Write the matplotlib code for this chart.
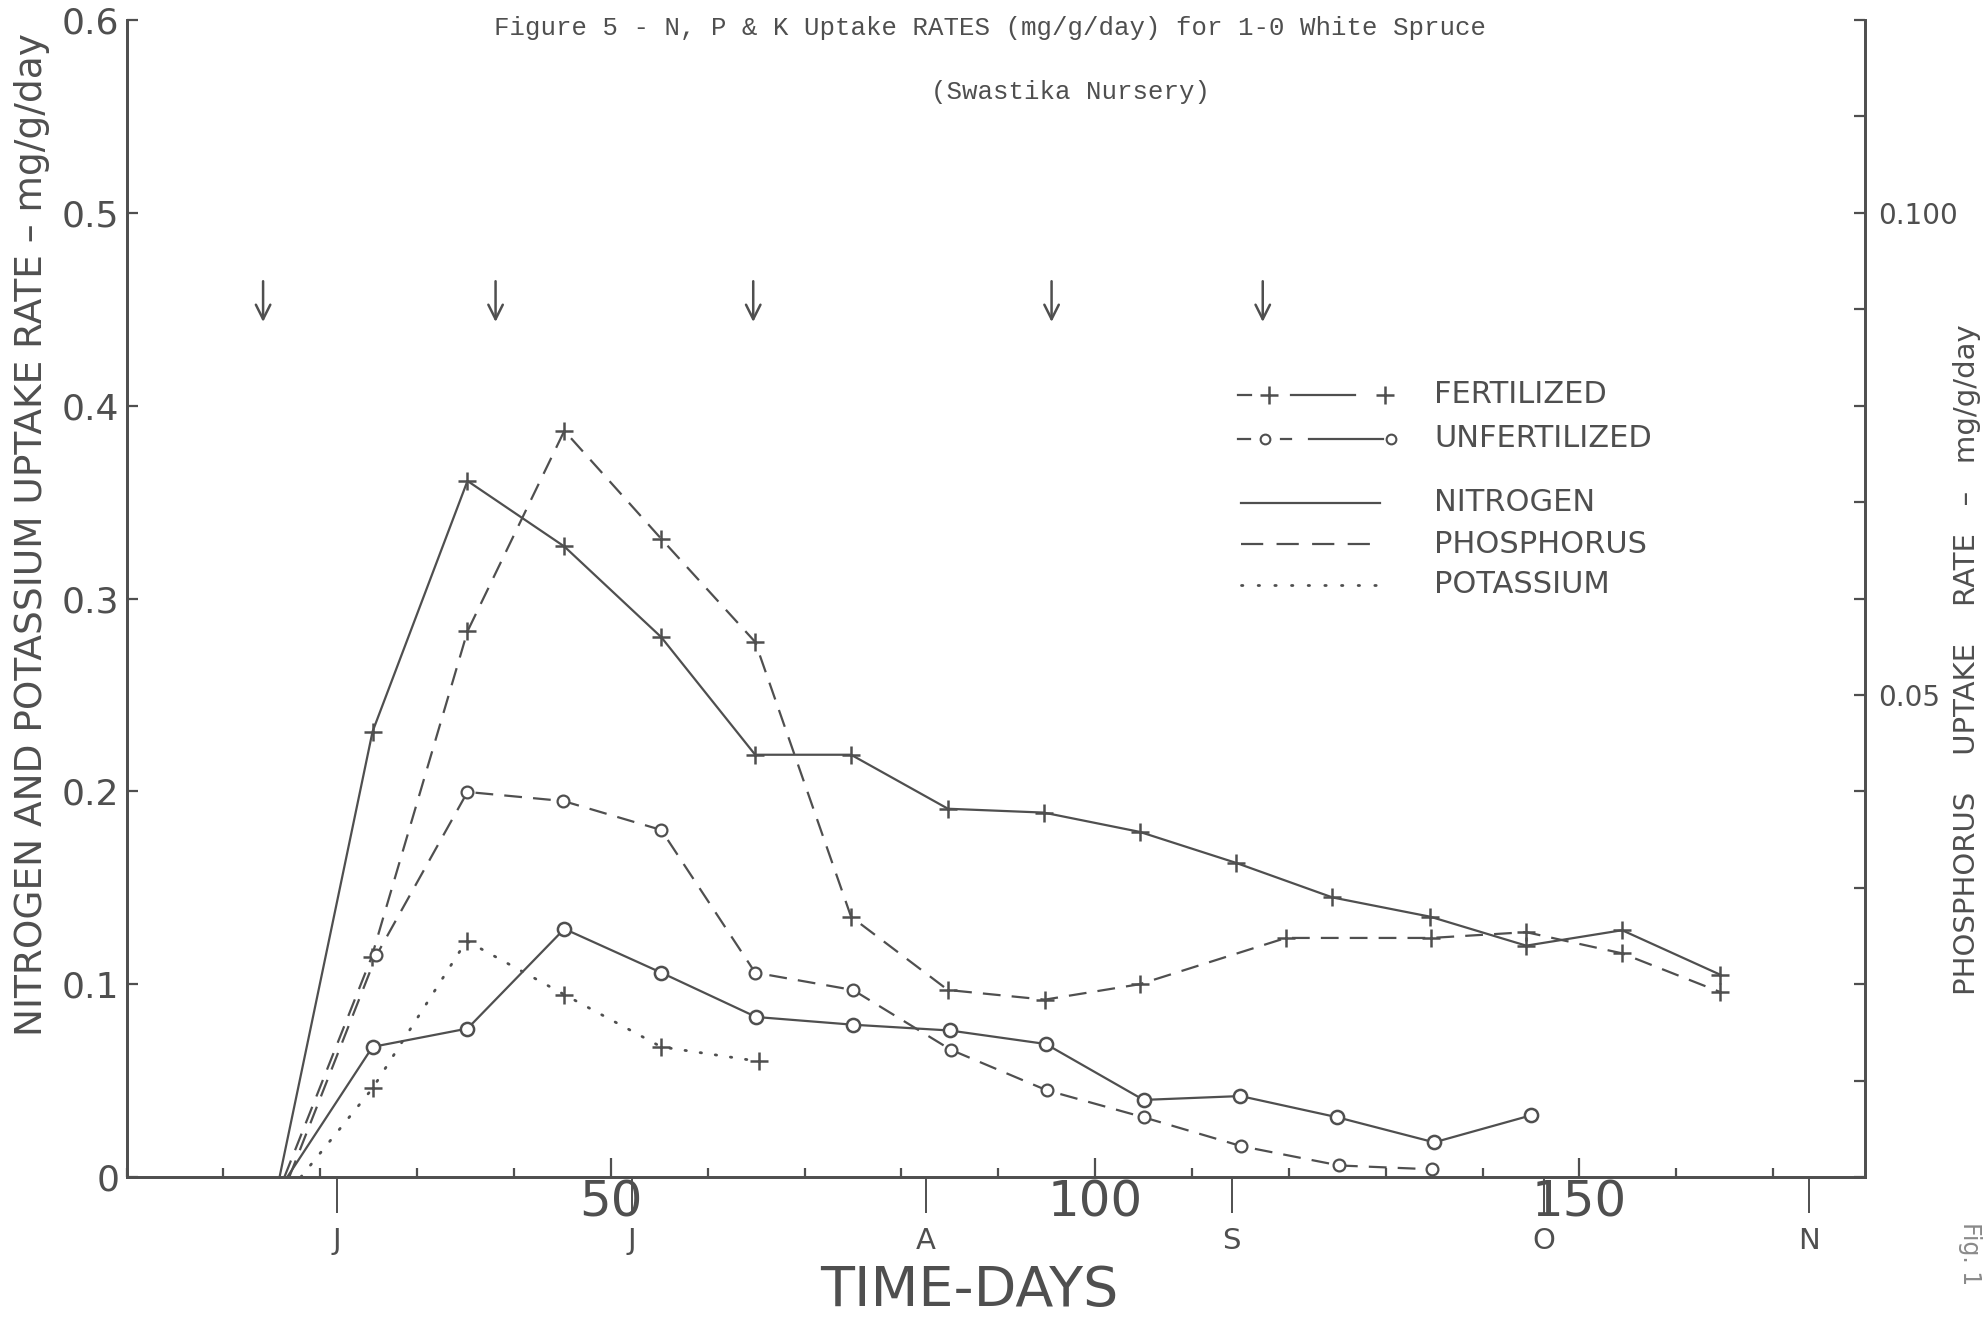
import matplotlib
matplotlib.use('Agg')
import matplotlib.pyplot as plt
from matplotlib.ticker import FixedLocator, MultipleLocator

plt.rcParams['font.family'] = ['DejaVu Sans']

# N, P & K uptake rates (mg/g/day)
days_n_fert = [15.8, 25.4, 35.2, 45.2, 55.2, 64.9, 74.8, 84.8, 94.7, 104.6, 114.5, 124.5, 134.6, 144.5, 154.4, 164.5]
n_fert = [0, 0.231, 0.361, 0.327, 0.280, 0.219, 0.219, 0.191, 0.189, 0.179, 0.163, 0.145, 0.135, 0.120, 0.128, 0.105]

days_p_fert = [16.3, 25.3, 35.2, 45.2, 55.2, 64.9, 74.8, 84.8, 94.8, 104.6, 119.7, 134.7, 144.5, 154.4, 164.5]
p_fert = [0, 0.114, 0.283, 0.387, 0.331, 0.2775, 0.135, 0.097, 0.092, 0.100, 0.124, 0.124, 0.127, 0.116, 0.096]

days_n_unfert = [16.6, 25.4, 35.2, 45.2, 55.2, 65.0, 75.0, 85.0, 94.9, 105.0, 115.0, 125.0, 135.0, 145.0]
n_unfert = [0, 0.0675, 0.077, 0.1287, 0.106, 0.083, 0.079, 0.076, 0.069, 0.040, 0.042, 0.031, 0.018, 0.032]

days_p_unfert = [16.8, 25.8, 35.2, 45.1, 55.2, 64.9, 75.0, 85.1, 95.0, 105.0, 115.1, 125.2, 134.8]
p_unfert = [0, 0.115, 0.1997, 0.195, 0.180, 0.106, 0.097, 0.066, 0.045, 0.031, 0.016, 0.006, 0.004]

days_k_fert = [18.0, 25.4, 35.1, 45.2, 55.2, 65.3]
k_fert = [0, 0.046, 0.1225, 0.0946, 0.0675, 0.060]

# fertilizer application dates (arrows)
fert_days = [14.1, 38.1, 64.7, 95.5, 117.3]

month_days = [21.7, 52.2, 82.5, 114.1, 146.3, 173.7]
month_labels = ['J', 'J', 'A', 'S', 'O', 'N']

left_ticks = [0, 0.1, 0.2, 0.3, 0.4, 0.5, 0.6]
left_labels = ['0', '0.1', '0.2', '0.3', '0.4', '0.5', '0.6']
right_ticks = [0.01 * i for i in range(13)]
right_labels = ['' for i in range(13)]
right_labels[5] = '0.05'
right_labels[10] = '0.100'

c = '#4f4f4f'

fig = plt.figure(figsize=(19.86, 13.2), dpi=100)
ax = fig.add_axes([0.0637, 0.1083, 0.8755, 0.8765])
ax.set_xlim(0, 179.5)
ax.set_ylim(0, 0.6)

for s in ax.spines.values():
    s.set_color(c)
    s.set_linewidth(2.0)
ax.spines['top'].set_visible(False)

lw = 1.6
ax.plot(days_n_fert, n_fert, '-', color=c, lw=lw, marker='+', ms=13, mew=1.8,
        markevery=list(range(1, len(n_fert))), clip_on=False)
ax.plot(days_p_fert, p_fert, ls=(0, (8, 5)), color=c, lw=lw, marker='+', ms=13, mew=1.8,
        markevery=list(range(1, len(p_fert))), clip_on=False)
ax.plot(days_n_unfert, n_unfert, '-', color=c, lw=lw, marker='o', ms=9.5, mew=1.8, mfc='white',
        markevery=list(range(1, len(n_unfert))), clip_on=False)
ax.plot(days_p_unfert, p_unfert, ls=(0, (8, 5)), color=c, lw=lw, marker='o', ms=8.5, mew=1.6, mfc='white',
        markevery=list(range(1, len(p_unfert))), clip_on=False)
ax.plot(days_k_fert, k_fert, ls=(0, (0.5, 5)), dash_capstyle='round', color=c, lw=2.0, marker='+',
        ms=13, mew=1.8, markevery=list(range(1, len(k_fert))), clip_on=False)

for d in fert_days:
    ax.annotate('', xy=(d, 0.442), xytext=(d, 0.466),
                arrowprops=dict(arrowstyle='->', color=c, lw=1.8, mutation_scale=26))

# x axis: days
ax.xaxis.set_major_locator(FixedLocator([50, 100, 150]))
ax.xaxis.set_minor_locator(MultipleLocator(10))
ax.tick_params(axis='x', which='major', direction='in', length=13.5, width=1.6, color=c,
               labelsize=36, labelcolor=c, pad=1)
ax.tick_params(axis='x', which='minor', direction='in', length=6.5, width=1.6, color=c)

# months under the axis
sec = ax.secondary_xaxis('bottom')
sec.set_xticks(month_days, labels=month_labels)
sec.spines['bottom'].set_visible(False)
sec.tick_params(direction='out', length=26, width=1.4, color=c, labelsize=21, labelcolor=c, pad=10)

# left y axis
ax.set_yticks(left_ticks, labels=left_labels)
ax.tick_params(axis='y', direction='in', length=8, width=1.6, color=c, labelsize=26,
               labelcolor=c, pad=5)

# right y axis (phosphorus)
ax2 = ax.twinx()
ax2.set_ylim(0, 0.12)
ax2.set_yticks(right_ticks, labels=right_labels)
ax2.tick_params(axis='y', direction='in', length=8, width=1.6, color=c, labelsize=20,
                labelcolor=c, pad=9)
for s in ax2.spines.values():
    s.set_color(c)
    s.set_linewidth(2.0)
ax2.spines['top'].set_visible(False)

fig.text(0.4987, 0.979, 'Figure 5 - N, P & K Uptake RATES (mg/g/day) for 1-0 White Spruce',
         ha='center', va='center', family='Liberation Mono', fontsize=18.5, color=c)
fig.text(0.5389, 0.930, '(Swastika Nursery)', ha='center', va='center',
         family='Liberation Mono', fontsize=18.5, color=c)

fig.text(0.016, 0.595, 'NITROGEN AND POTASSIUM UPTAKE RATE \u2013 mg/g/day', rotation=90,
         ha='center', va='center', fontsize=27, color=c)
fig.text(0.9905, 0.50, 'PHOSPHORUS    UPTAKE    RATE   \u2013   mg/g/day', rotation=90,
         ha='center', va='center', fontsize=21, color=c)
fig.text(0.488, 0.022, 'TIME-DAYS', ha='center', va='center', fontsize=40, color=c)
fig.text(0.992, 0.050, 'Fig. 1', rotation=270, ha='center', va='center', fontsize=17, color='#8a8a8a')

# hand-drawn style key
T = ax.transAxes
kw = dict(transform=T, color=c, clip_on=False)
yf, yu, yn, yp, yk = 0.676, 0.638, 0.583, 0.547, 0.512
ax.plot([0.639, 0.647], [yf, yf], lw=lw, **kw)
ax.plot([0.657], [yf], marker='+', ms=13, mew=1.8, **kw)
ax.plot([0.670, 0.7066], [yf, yf], lw=lw, **kw)
ax.plot([0.724], [yf], marker='+', ms=13, mew=1.8, **kw)
ax.plot([0.639, 0.646], [yu, yu], lw=lw, **kw)
ax.plot([0.655], [yu], marker='o', ms=7, mew=1.5, mfc='white', **kw)
ax.plot([0.664, 0.670], [yu, yu], lw=lw, **kw)
ax.plot([0.680, 0.7226], [yu, yu], lw=lw, **kw)
ax.plot([0.727], [yu], marker='o', ms=7, mew=1.5, mfc='white', **kw)
ax.plot([0.641, 0.721], [yn, yn], lw=lw, **kw)
ax.plot([0.641, 0.721], [yp, yp], lw=lw, ls=(0, (10, 6)), **kw)
ax.plot([0.641, 0.722], [yk, yk], lw=2.0, ls=(0, (0.5, 5.5)), dash_capstyle='round', **kw)
for y, t in zip([yf, yu, yn, yp, yk], ['FERTILIZED', 'UNFERTILIZED', 'NITROGEN', 'PHOSPHORUS', 'POTASSIUM']):
    ax.text(0.752, y, t, transform=T, ha='left', va='center', fontsize=22, color=c)

fig.savefig('out.png', dpi=100, facecolor='white')
